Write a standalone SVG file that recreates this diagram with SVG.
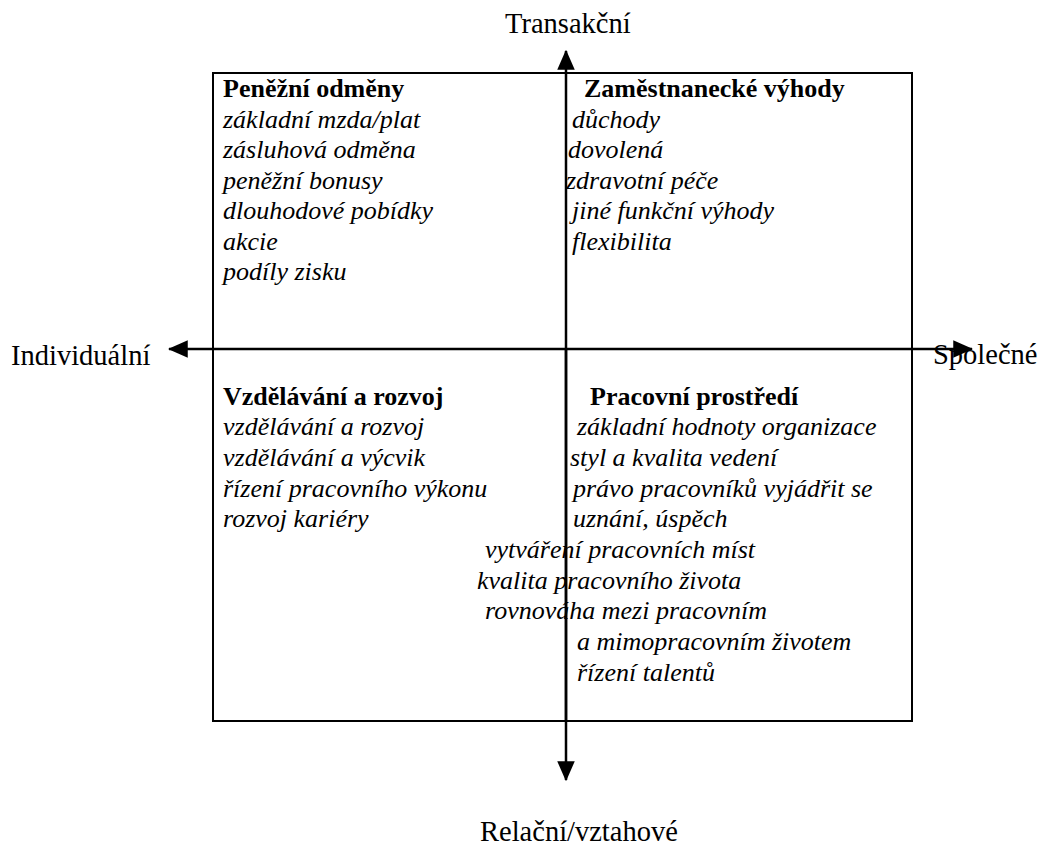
<svg xmlns="http://www.w3.org/2000/svg" width="1049" height="847" viewBox="0 0 1049 847">
<style>
text{font-family:"Liberation Serif","Times New Roman",serif;font-size:26px;fill:#000}
.h{font-weight:bold}
.i{font-style:italic}
.lab{font-size:28.5px}
.ax{stroke:#000;stroke-width:2.5;fill:none}
</style>
<defs>
<marker id="ah" markerWidth="8" markerHeight="7" refX="7.5" refY="3.5" orient="auto" markerUnits="strokeWidth">
<path d="M0,0 L8,3.5 L0,7 Z" fill="#000"/>
</marker>
</defs>
<rect x="213" y="73" width="699" height="648" fill="none" stroke="#000" stroke-width="2"/>
<g id="connectors">
<line class="ax" x1="566" y1="720" x2="566" y2="51" marker-end="url(#ah)"/>
<line class="ax" x1="566" y1="349" x2="566" y2="780" marker-end="url(#ah)"/>
<line class="ax" x1="566" y1="349" x2="169" y2="349" marker-end="url(#ah)"/>
<line class="ax" x1="566" y1="349" x2="972" y2="349" marker-end="url(#ah)"/>
</g>
<g id="axis-labels">
<text class="lab" x="505" y="33">Transakční</text>
<text class="lab" x="480" y="841">Relační/vztahové</text>
<text class="lab" x="11" y="365">Individuální</text>
<text class="lab" x="933" y="364">Společné</text>
</g>
<g id="q-penezni">
<text class="h" x="223" y="97">Peněžní odměny</text>
<text class="i" x="223" y="128">základní mzda/plat</text>
<text class="i" x="223" y="158">zásluhová odměna</text>
<text class="i" x="223" y="189">peněžní bonusy</text>
<text class="i" x="223" y="219">dlouhodové pobídky</text>
<text class="i" x="223" y="250">akcie</text>
<text class="i" x="223" y="280">podíly zisku</text>
</g>
<g id="q-vyhody">
<text class="h" x="584" y="97">Zaměstnanecké výhody</text>
<text class="i" x="572" y="128">důchody</text>
<text class="i" x="568" y="158">dovolená</text>
<text class="i" x="566" y="189">zdravotní péče</text>
<text class="i" x="572" y="219">jiné funkční výhody</text>
<text class="i" x="572" y="250">flexibilita</text>
</g>
<g id="q-vzdelavani">
<text class="h" x="223" y="405">Vzdělávání a rozvoj</text>
<text class="i" x="223" y="435">vzdělávání a rozvoj</text>
<text class="i" x="223" y="466">vzdělávání a výcvik</text>
<text class="i" x="223" y="497">řízení pracovního výkonu</text>
<text class="i" x="223" y="527">rozvoj kariéry</text>
</g>
<g id="q-prostredi">
<text class="h" x="590" y="405">Pracovní prostředí</text>
<text class="i" x="577" y="435">základní hodnoty organizace</text>
<text class="i" x="570" y="466">styl a kvalita vedení</text>
<text class="i" x="573" y="497">právo pracovníků vyjádřit se</text>
<text class="i" x="573" y="527">uznání, úspěch</text>
<text class="i" x="485" y="558">vytváření pracovních míst</text>
<text class="i" x="477" y="589">kvalita pracovního života</text>
<text class="i" x="485" y="619">rovnováha mezi pracovním</text>
<text class="i" x="577" y="650">a mimopracovním životem</text>
<text class="i" x="577" y="681">řízení talentů</text>
</g>
</svg>
